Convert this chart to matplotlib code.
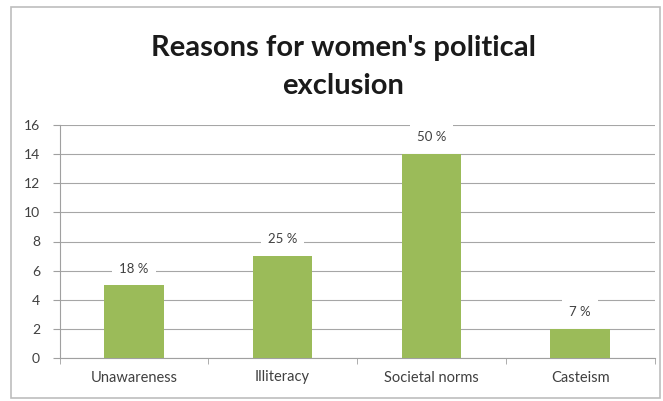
import numpy as np
import matplotlib.pyplot as plt
from matplotlib.patches import Rectangle

categories = ['Unawareness', 'Illiteracy', 'Societal norms', 'Casteism']
counts = [5, 7, 14, 2]
pct_labels = ['18 %', '25 %', '50 %', '7 %']
yticks = [0, 2, 4, 6, 8, 10, 12, 14, 16]

plt.rcParams['font.family'] = ['Lato', 'DejaVu Sans']

W, H = 663, 401
fig = plt.figure(figsize=(W / 100, H / 100), dpi=100)
fig.patch.set_facecolor('white')

# chart frame
fig.patches.append(Rectangle((11 / W, 1 - 398 / H), 649 / W, 391 / H,
                             transform=fig.transFigure, fill=False,
                             edgecolor='#bdbdbd', linewidth=1.2))

ax = fig.add_axes([59.5 / W, 1 - 358 / H, 595 / W, 233 / H])
x = np.arange(len(categories))
ax.bar(x, counts, width=0.4, color='#9bbb59', zorder=3)

ax.set_xlim(-0.5, 3.5)
ax.set_ylim(0, 16)
ax.set_yticks(yticks)
ax.set_xticks(x)
ax.set_xticklabels(categories, fontsize=10.5, color='#404040')
ax.tick_params(axis='y', labelsize=10, labelcolor='#404040', length=5,
               color='#a0a0a0', pad=9)
ax.tick_params(axis='x', length=0, pad=9)
ax.set_xticks(np.arange(-0.5, 4.0, 1.0), minor=True)
ax.tick_params(axis='x', which='minor', length=4, color='#a0a0a0')

ax.grid(axis='y', color='#a6a6a6', linewidth=0.8, zorder=0)
for s in ['top', 'right']:
    ax.spines[s].set_visible(False)
ax.spines['left'].set_color('#a0a0a0')
ax.spines['bottom'].set_color('#a0a0a0')

for xi, v, lab in zip(x, counts, pct_labels):
    ax.annotate(lab, (xi, v), xytext=(0, 12), textcoords='offset points',
                ha='center', va='center', fontsize=9.5, color='#404040',
                bbox=dict(facecolor='white', edgecolor='none', pad=5),
                zorder=4)

fig.text(343 / W, 1 - 48 / H, "Reasons for women's political", ha='center',
         va='center', fontsize=21, fontweight='bold', color='#1a1a1a')
fig.text(343 / W, 1 - 86 / H, "exclusion", ha='center',
         va='center', fontsize=21, fontweight='bold', color='#1a1a1a')

fig.savefig('out.png', dpi=100)
